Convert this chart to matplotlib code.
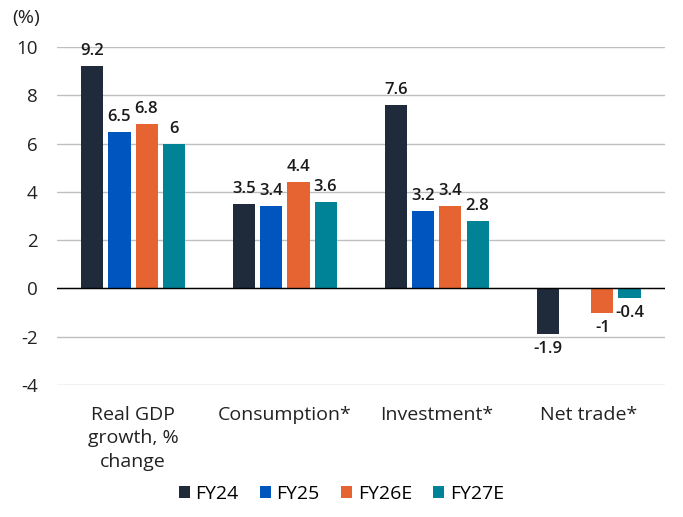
import matplotlib.pyplot as plt
import numpy as np

categories = ["Real GDP\ngrowth, %\nchange", "Consumption*", "Investment*", "Net trade*"]
series_names = ["FY24", "FY25", "FY26E", "FY27E"]
fy24 = [9.2, 3.5, 7.6, -1.9]
fy25 = [6.5, 3.4, 3.2, None]
fy26e = [6.8, 4.4, 3.4, -1.0]
fy27e = [6.0, 3.6, 2.8, -0.4]
colors = ["#1f2a3a", "#0055bf", "#e66432", "#008396"]
yticks = [-4, -2, 0, 2, 4, 6, 8, 10]

plt.rcParams['font.family'] = ['Open Sans', 'DejaVu Sans']

fig = plt.figure(figsize=(6.83, 5.17), dpi=100)
ax = fig.add_axes([0.0835, 0.2553, 0.89, 0.6537])

x = np.arange(len(categories))
step = 0.178
width = 0.145
all_series = [fy24, fy25, fy26e, fy27e]
for i, (vals, name, c) in enumerate(zip(all_series, series_names, colors)):
    xs = x + (i - 1.5) * step
    for xi, v in zip(xs, vals):
        if v is None:
            continue
        ax.bar(xi, v, width=width, color=c, zorder=3)
        lab = f"{v:g}"
        if v >= 0:
            ax.annotate(lab, (xi, v), xytext=(0, 5), textcoords='offset points',
                        ha='center', va='bottom', fontsize=12, fontweight='semibold', color='#1a1a1a')
        else:
            ax.annotate(lab, (xi, v), xytext=(0, -5), textcoords='offset points',
                        ha='center', va='top', fontsize=12, fontweight='semibold', color='#1a1a1a')
    ax.bar(np.nan, 0, color=c, label=name)

ax.set_xlim(-0.5, 3.5)
ax.set_ylim(-4, 10)
ax.set_yticks(yticks)
ax.set_yticklabels([str(t) for t in yticks], fontsize=13.5, color='#222222')
ax.set_xticks(x)
ax.set_xticklabels(categories, fontsize=14, color='#222222', linespacing=1.4)
ax.tick_params(axis='both', length=0)
ax.tick_params(axis='y', pad=14)
ax.tick_params(axis='x', pad=15)
for s in ax.spines.values():
    s.set_visible(False)
ax.yaxis.grid(True, color='#bfbfbf', linewidth=1, zorder=0)
ax.set_axisbelow(True)
ax.axhline(0, color='black', linewidth=1, zorder=4)

fig.text(0.018, 0.965, "(%)", fontsize=14, color='#222222', ha='left', va='center')

leg = fig.legend(loc='center', bbox_to_anchor=(0.5, 0.045), ncol=4, frameon=False,
                 fontsize=14, handlelength=0.55, handleheight=0.55, handletextpad=0.3,
                 columnspacing=1.1)

fig.savefig("out.png", dpi=100)
